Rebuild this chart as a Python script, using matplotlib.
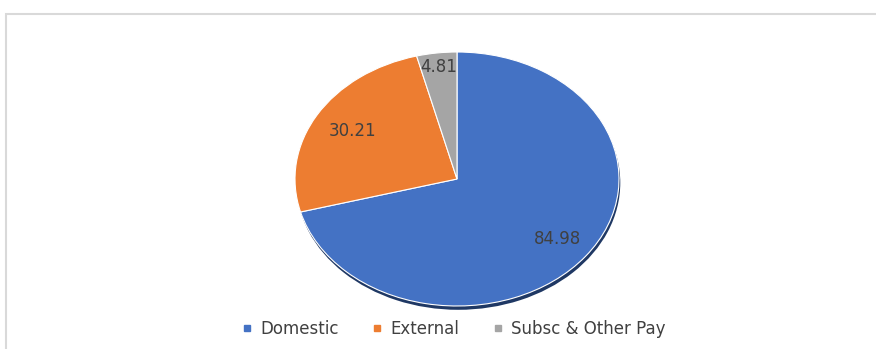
import matplotlib
matplotlib.use('Agg')
from matplotlib import pyplot as plt
from matplotlib.patches import Rectangle
from matplotlib.lines import Line2D
import numpy as np

labels = ['Domestic', 'External', 'Subsc & Other Pay']
values = [84.98, 30.21, 4.81]
colors = ['#4472C4', '#ED7D31', '#A5A5A5']
label_dist = [0.78, 0.75, 0.89]

plt.rcParams['font.family'] = ['DejaVu Sans']

fig = plt.figure(figsize=(8.76, 3.49), dpi=100)
# light chart frame
fig.patches.append(Rectangle((6/876, -0.1), 1.0, 1 - 14/349 + 0.1, transform=fig.transFigure,
                             fill=False, edgecolor='#d9d9d9', lw=1.5))

ax = fig.add_axes([295/876, 43/349, 324/876, 254/349])
# shadow under the whole pie
ax.pie([sum(values)], colors=['#1f3864'], center=(0.008, -0.03),
       wedgeprops=dict(linewidth=0, zorder=0))
wedges, _ = ax.pie(values, colors=colors, startangle=90, counterclock=False,
                   wedgeprops=dict(edgecolor='white', linewidth=0.8, zorder=1))
ax.set_aspect('auto')
ax.set_xlim(-1, 1)
ax.set_ylim(-1, 1)

for w, v, r in zip(wedges, values, label_dist):
    ang = np.deg2rad((w.theta1 + w.theta2) / 2)
    ax.text(r * np.cos(ang), r * np.sin(ang), f'{v:.2f}', ha='center', va='center',
            fontsize=12, color='#404040', zorder=3)

handles = [Line2D([], [], marker='s', linestyle='none', markersize=5, color=c) for c in colors]
fig.legend(handles, labels, loc='center', bbox_to_anchor=(0.516, 0.057), ncol=3,
           frameon=False, fontsize=12, labelcolor='#404040', handletextpad=0.3,
           columnspacing=1.8, handlelength=1.0)

fig.savefig('out.png', dpi=100)
